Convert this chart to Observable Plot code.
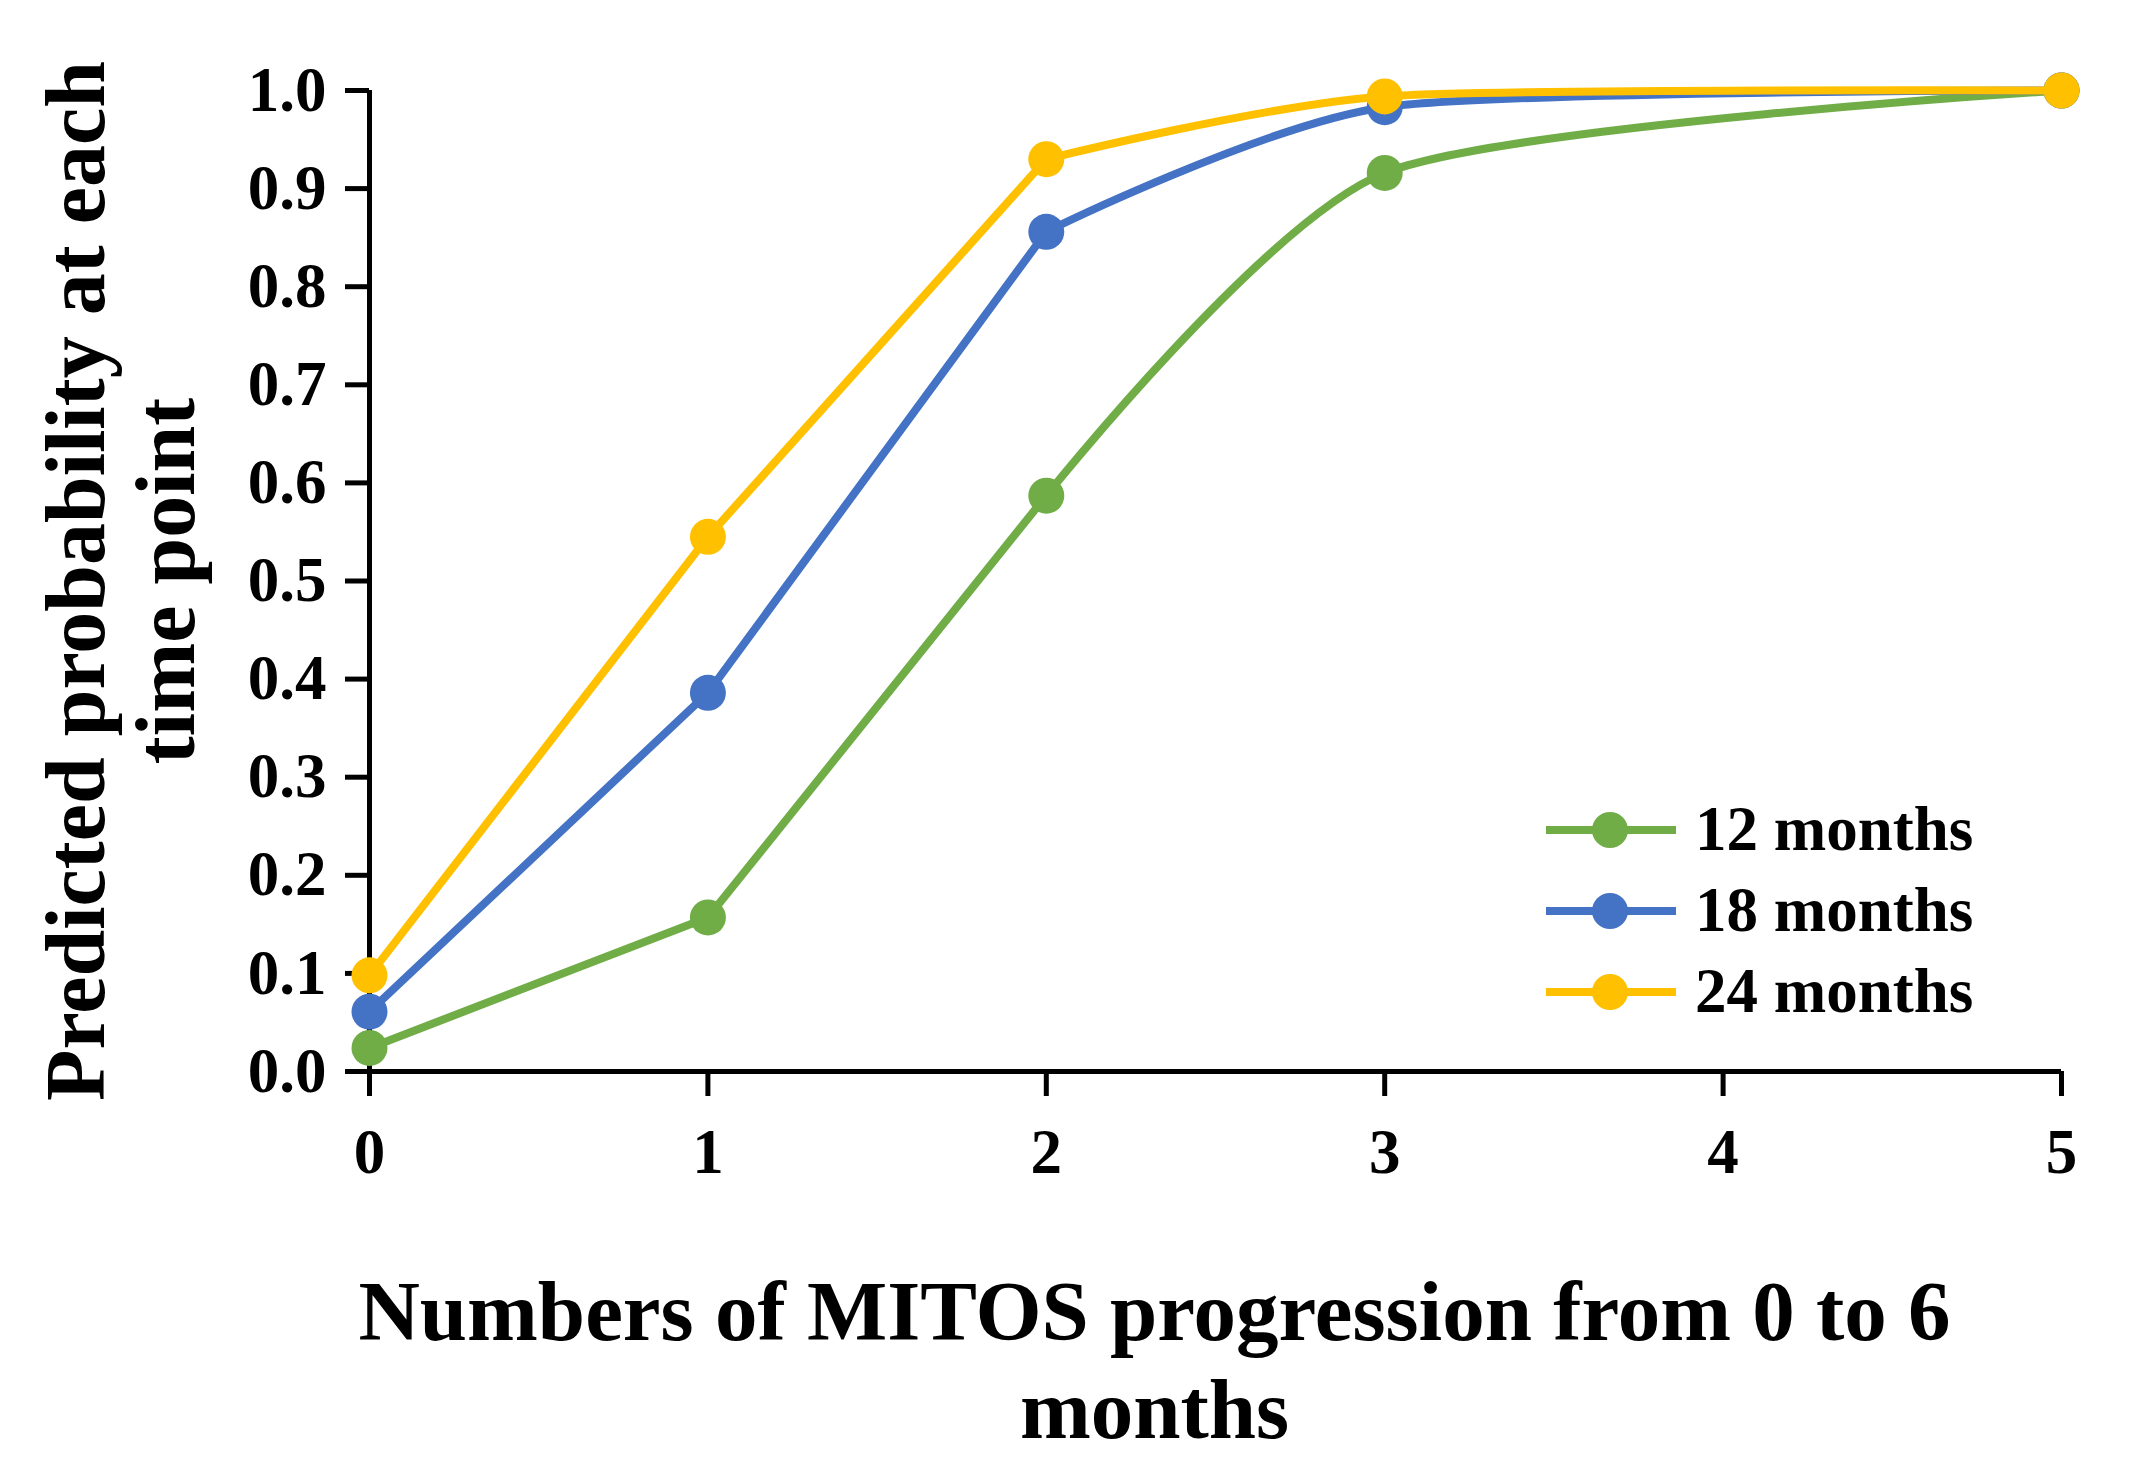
<!DOCTYPE html>
<html>
<head>
<meta charset="utf-8">
<script src="https://cdn.jsdelivr.net/npm/d3@7"></script>
<script src="https://cdn.jsdelivr.net/npm/@observablehq/plot@0.6"></script>
<style>
  html, body { margin: 0; padding: 0; background: #ffffff; }
  #wrap { position: relative; width: 2129px; height: 1474px; background: #ffffff; }
  #legend { position: absolute; left: 1546px; top: 789px; font-family: "Liberation Serif", "Times New Roman", serif; font-weight: bold; font-size: 63px; color: #000; }
  .row { display: flex; align-items: center; height: 81px; }
  .row span { line-height: 81px; margin-left: 19px; white-space: nowrap; }
</style>
</head>
<body>
<div id="wrap"><div id="legend"></div></div>
<script>
// ---- data ----
const xValues = [0, 1, 2, 3, 5];
const months12 = [0.024, 0.157, 0.587, 0.916, 1.0];
const months18 = [0.061, 0.386, 0.856, 0.983, 1.0];
const months24 = [0.098, 0.545, 0.930, 0.994, 1.0];
const seriesNames = ["12 months", "18 months", "24 months"];
const seriesColors = ["#70AD47", "#4472C4", "#FFC000"];
const xTicks = [0, 1, 2, 3, 4, 5];
const yTicks = [0, 0.1, 0.2, 0.3, 0.4, 0.5, 0.6, 0.7, 0.8, 0.9, 1.0];
const xTitle = "Numbers of MITOS progression from 0 to 6\nmonths";
const yTitle = "Predicted probability at each\ntime point";

const seriesValues = [months12, months18, months24];
const rows = seriesValues.map((vals, s) =>
  vals.map((v, i) => ({series: seriesNames[s], x: xValues[i], y: v}))
);

const font = "'Liberation Serif', 'Times New Roman', serif";

// the reference draws straight segments up to x = 2 and a smoothed curve beyond
const seriesMarks = rows.flatMap((data, s) => [
  Plot.line(data.filter(d => d.x <= 2), {x: "x", y: "y", stroke: seriesColors[s], strokeWidth: 8, curve: "linear"}),
  Plot.line(data.filter(d => d.x >= 2), {x: "x", y: "y", stroke: seriesColors[s], strokeWidth: 8, curve: "cardinal", tension: 0.3}),
  Plot.dot(data, {x: "x", y: "y", fill: seriesColors[s], r: 18, stroke: "none"})
]);

const chart = Plot.plot({
  width: 2129,
  height: 1474,
  marginLeft: 369,
  marginRight: 68,
  marginTop: 90,
  marginBottom: 403,
  x: {domain: [0, 5]},
  y: {domain: [0, 1]},
  style: {fontFamily: font, fontWeight: "bold", background: "#ffffff", color: "#000000", overflow: "visible"},
  marks: [
    Plot.axisY({ticks: yTicks, tickFormat: d3.format(".1f"), tickSize: 24, tickPadding: 19,
      fontSize: 63, fontWeight: "bold", fontFamily: font, stroke: "#000", strokeWidth: 5, label: null}),
    Plot.axisX({ticks: xTicks, tickFormat: d => String(d), tickSize: 25, tickPadding: 32,
      fontSize: 63, fontWeight: "bold", fontFamily: font, stroke: "#000", strokeWidth: 5, label: null}),
    Plot.ruleY([0], {stroke: "#000", strokeWidth: 5}),
    Plot.ruleX([0], {stroke: "#000", strokeWidth: 5}),
    ...seriesMarks,
    Plot.text([yTitle], {text: d => d, frameAnchor: "left", textAnchor: "middle", lineAnchor: "middle",
      dx: -249, rotate: -90, fontSize: 84, fontWeight: "bold", fontFamily: font, lineHeight: 1.07, fill: "#000"}),
    Plot.text([xTitle], {text: d => d, frameAnchor: "bottom", textAnchor: "middle", dx: -61, dy: 198, lineAnchor: "top",
      fontSize: 85, fontWeight: "bold", fontFamily: font, lineHeight: 1.16, fill: "#000"})
  ]
});

const wrap = document.getElementById("wrap");
wrap.insertBefore(chart, wrap.firstChild);

// legend
const legend = document.getElementById("legend");
seriesNames.forEach((name, s) => {
  const row = document.createElement("div");
  row.className = "row";
  row.innerHTML =
    `<svg width="130" height="40" viewBox="0 0 130 40"><line x1="0" y1="20" x2="130" y2="20" stroke="${seriesColors[s]}" stroke-width="8"/>` +
    `<circle cx="64" cy="20" r="18" fill="${seriesColors[s]}"/></svg><span>${name}</span>`;
  legend.appendChild(row);
});
</script>
</body>
</html>
